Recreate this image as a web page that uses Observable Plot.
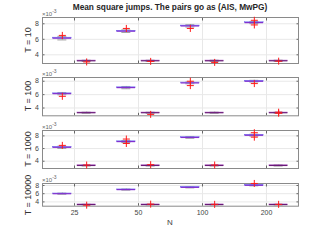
<!DOCTYPE html>
<html><head><meta charset="utf-8">
<script src="https://cdn.jsdelivr.net/npm/d3@7"></script>
<script src="https://cdn.jsdelivr.net/npm/@observablehq/plot@0.6"></script>
<style>
body{margin:0;background:#fff;}
#fig{position:relative;width:329px;height:243px;font-family:"Liberation Sans",Arial,sans-serif;overflow:hidden;background:#fff}
#fig svg{position:absolute;left:0;overflow:visible}
.t{position:absolute;white-space:nowrap;color:#262626;line-height:1}
.title{font-weight:bold;font-size:8.3px;left:0;width:340px;text-align:center;top:3px}
.exp{font-size:6px;color:#666}
.exp sup{font-size:5px;vertical-align:3px}
.ylab{font-size:9px;color:#333;transform:translate(-50%,-50%) rotate(-90deg)}
.xlab{font-size:8px;color:#444;transform:translate(-50%,-50%)}
</style></head><body><div id="fig"></div>
<script>
const N = ["25", "50", "100", "200"];
const T = ["T = 10", "T = 100", "T = 1000", "T = 10000"];
const methods = ["AIS", "MwPG"];
const yTicks = [4, 6, 8];
// boxes (×10^-3): [lower whisker, q1, median, q3, upper whisker], one per N
const aisT10    = [[5.92, 6.10, 6.15, 6.21, 6.38], [6.88, 7.00, 7.05, 7.10, 7.22], [7.58, 7.68, 7.72, 7.77, 7.88], [8.02, 8.11, 8.15, 8.20, 8.30]];
const mwpgT10   = [[3.14, 3.20, 3.23, 3.26, 3.31], [3.14, 3.20, 3.23, 3.26, 3.31], [3.14, 3.20, 3.23, 3.26, 3.31], [3.14, 3.20, 3.23, 3.26, 3.31]];
const aisT100   = [[5.98, 6.11, 6.15, 6.20, 6.32], [6.88, 7.00, 7.05, 7.10, 7.22], [7.62, 7.71, 7.75, 7.80, 7.88], [7.88, 7.96, 8.00, 8.05, 8.14]];
const mwpgT100  = [[3.22, 3.27, 3.30, 3.33, 3.38], [3.22, 3.27, 3.30, 3.33, 3.38], [3.22, 3.27, 3.30, 3.33, 3.38], [3.22, 3.27, 3.30, 3.33, 3.38]];
const aisT1000  = [[6.03, 6.15, 6.20, 6.25, 6.37], [6.95, 7.05, 7.10, 7.15, 7.27], [7.62, 7.71, 7.75, 7.80, 7.90], [7.97, 8.06, 8.10, 8.15, 8.26]];
const mwpgT1000 = [[3.24, 3.30, 3.33, 3.36, 3.42], [3.24, 3.30, 3.33, 3.36, 3.42], [3.24, 3.30, 3.33, 3.36, 3.42], [3.24, 3.30, 3.33, 3.36, 3.42]];
const aisT10000 = [[5.87, 5.96, 6.00, 6.05, 6.13], [6.87, 6.96, 7.00, 7.05, 7.13], [7.42, 7.51, 7.55, 7.59, 7.68], [7.92, 8.01, 8.05, 8.09, 8.18]];
const mwpgT10000= [[3.27, 3.32, 3.35, 3.38, 3.43], [3.27, 3.32, 3.35, 3.38, 3.43], [3.27, 3.32, 3.35, 3.38, 3.43], [3.27, 3.32, 3.35, 3.38, 3.43]];
// outliers (×10^-3) per N
const aisOutT10    = [[6.50], [7.40], [7.40], [8.45, 7.85]];
const mwpgOutT10   = [[3.08], [3.15], [3.02], [3.18]];
const aisOutT100   = [[5.75], [], [8.00, 7.35], [7.65]];
const mwpgOutT100  = [[], [3.05], [], [3.22, 3.38]];
const aisOutT1000  = [[6.50], [7.50, 6.80], [], [8.50, 7.80]];
const mwpgOutT1000 = [[3.40], [3.45], [3.40], []];
const aisOutT10000 = [[], [], [], [8.50]];
const mwpgOutT10000= [[3.20], [3.45], [3.40], [3.40]];

const boxSets = [[aisT10, mwpgT10], [aisT100, mwpgT100], [aisT1000, mwpgT1000], [aisT10000, mwpgT10000]];
const outSets = [[aisOutT10, mwpgOutT10], [aisOutT100, mwpgOutT100], [aisOutT1000, mwpgOutT1000], [aisOutT10000, mwpgOutT10000]];

// layout of each panel: axes top, axes bottom (px) and y domain
const panels = [
  {top: 17,    bottom: 63,    domain: [2.88, 8.81]},
  {top: 76.7,  bottom: 115,   domain: [2.84, 8.56]},
  {top: 130.3, bottom: 168.3, domain: [2.85, 8.85]},
  {top: 183.3, bottom: 206,   domain: [2.95, 8.49]}
];
const offset = 0.19, half = 0.145, capHalf = 0.07;
const boxFill = {AIS: "#9a9ae8", MwPG: "#c884d0"};
const boxStroke = {AIS: "#7070f0", MwPG: "#b060c8"};
const medColor = {AIS: "#8030d0", MwPG: "#6a1a78"};

const fig = document.getElementById("fig");
function addText(cls, html, left, top) {
  const e = document.createElement("div");
  e.className = "t " + cls;
  e.innerHTML = html;
  if (left != null) e.style.left = left + "px";
  if (top != null) e.style.top = top + "px";
  fig.appendChild(e);
  return e;
}
addText("title", "Mean square jumps. The pairs go as (AIS, MwPG)");

panels.forEach((p, k) => {
  const boxes = [];
  const outs = [];
  methods.forEach((m, j) => {
    boxSets[k][j].forEach((b, i) => {
      const pos = i + 1 + (j === 0 ? -offset : offset);
      boxes.push({method: m, n: N[i], pos, lo: b[0], q1: b[1], med: b[2], q3: b[3], hi: b[4]});
      outSets[k][j][i].forEach(v => outs.push({method: m, n: N[i], pos, v}));
    });
  });
  const last = k === panels.length - 1;
  const mt = 4, mb = last ? 14 : 2;
  const h = p.bottom - p.top;
  const chart = Plot.plot({
    width: 329,
    height: h + mt + mb,
    marginLeft: 42, marginRight: 31, marginTop: mt, marginBottom: mb,
    style: {fontFamily: "Liberation Sans, Arial, sans-serif", fontSize: "7px", color: "#333", background: "transparent"},
    x: {domain: [0.5, 4.5]},
    y: {domain: p.domain},
    marks: [
      Plot.gridY(yTicks, {stroke: "#e8e8e8", strokeOpacity: 1}),
      Plot.gridX([1, 2, 3, 4], {stroke: "#e8e8e8", strokeOpacity: 1}),
      Plot.axisY(yTicks, {anchor: "left", tickSize: 0, tickPadding: 3.5, label: null, fontSize: 7, fill: "#444"}),
      Plot.axisY(yTicks, {anchor: "left", tickSize: -2.5, stroke: "#666", text: null, label: null}),
      Plot.axisY(yTicks, {anchor: "right", tickSize: -2.5, stroke: "#666", text: null, label: null}),
      Plot.axisX([1, 2, 3, 4], {anchor: "top", tickSize: -2.5, stroke: "#666", text: null, label: null}),
      Plot.axisX([1, 2, 3, 4], {anchor: "bottom", tickSize: -2.5, stroke: "#666", text: null, label: null}),
      last ? Plot.axisX([1, 2, 3, 4], {anchor: "bottom", tickSize: 0, tickPadding: 4, tickFormat: d => N[d - 1], label: null, fontSize: 7, fill: "#444"}) : null,
      Plot.frame({stroke: "#8a8a8a"}),
      // whiskers
      Plot.ruleX(boxes, {x: "pos", y1: "lo", y2: "q1", stroke: "#666", strokeDasharray: "2,1", strokeWidth: 0.8}),
      Plot.ruleX(boxes, {x: "pos", y1: "q3", y2: "hi", stroke: "#666", strokeDasharray: "2,1", strokeWidth: 0.8}),
      // whisker caps
      Plot.ruleY(boxes, {y: "lo", x1: d => d.pos - capHalf, x2: d => d.pos + capHalf, stroke: "#888", strokeWidth: 0.8}),
      Plot.ruleY(boxes, {y: "hi", x1: d => d.pos - capHalf, x2: d => d.pos + capHalf, stroke: "#888", strokeWidth: 0.8}),
      // box
      Plot.rect(boxes, {x1: d => d.pos - half, x2: d => d.pos + half, y1: "q1", y2: "q3", fill: d => boxFill[d.method], fillOpacity: 0.75, stroke: d => boxStroke[d.method], strokeWidth: 0.5}),
      // median
      Plot.ruleY(boxes, {y: "med", x1: d => d.pos - half, x2: d => d.pos + half, stroke: d => medColor[d.method], strokeWidth: 1.2}),
      // outliers
      Plot.dot(outs, {x: "pos", y: "v", symbol: "plus", r: 2.4, stroke: "#ff1a1a", strokeWidth: 1})
    ]
  });
  chart.style.top = (p.top - mt) + "px";
  fig.appendChild(chart);
  addText("exp", "×10<sup>-3</sup>", 42, p.top - 8);
  addText("ylab", T[k], 28, (p.top + p.bottom) / 2);
});
addText("xlab", "N", 170, 223);
</script></body></html>
